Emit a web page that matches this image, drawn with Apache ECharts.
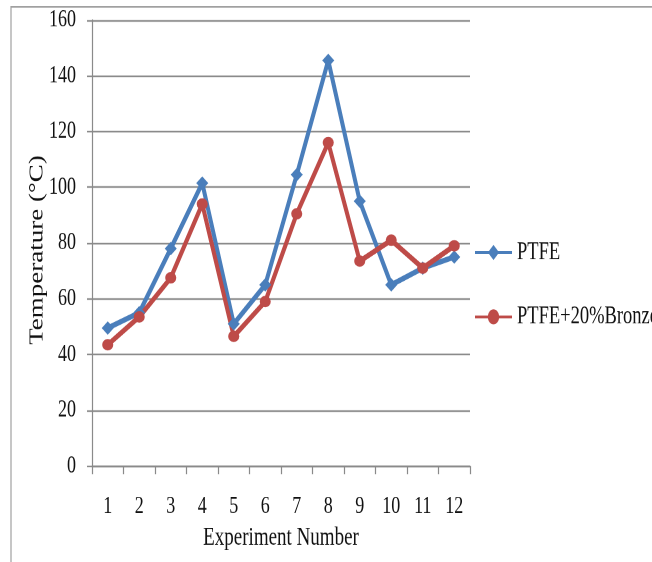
<!DOCTYPE html>
<html>
<head>
<meta charset="utf-8">
<script src="https://cdn.jsdelivr.net/npm/echarts@6/dist/echarts.min.js"></script>
<style>
  html, body { margin: 0; padding: 0; background: #fff; overflow: hidden; }
  #wrap { width: 652px; height: 562px; overflow: hidden; position: relative; }
  #chart { width: 652px; transform-origin: 0 0; position: absolute; left: 0; top: 0; }
</style>
</head>
<body>
<div id="wrap"><div id="chart"></div></div>
<script>
// ---- data ----
var categories = ['1', '2', '3', '4', '5', '6', '7', '8', '9', '10', '11', '12'];
var ptfe   = [49.5, 55, 78, 101.5, 51, 65, 104.5, 145.5, 95, 65, 71, 75];
var bronze = [43.5, 53.5, 67.5, 94, 46.5, 59, 90.5, 116, 73.5, 81, 71, 79];
var seriesNames = ['PTFE', 'PTFE+20%Bronze'];
var yTicks = { min: 0, max: 160, interval: 20 };
var xTitle = 'Experiment Number';
var yTitle = 'Temperature (°C)';

// ---- layout (reference text is vertically stretched) ----
var S = 1.35;
var W = 652, H = 562 / S;
var el = document.getElementById('chart');
el.style.height = H + 'px';
el.style.transform = 'scaleY(' + S + ')';

var chart = echarts.init(el, null, { width: W, height: H, devicePixelRatio: 2 });
var font = '"Liberation Serif", "Times New Roman", serif';
var grey = '#8a8a8a';

chart.setOption({
  animation: false,
  backgroundColor: '#fff',
  textStyle: { fontFamily: font, color: '#111' },
  graphic: [{
    type: 'rect', left: 8.5, top: 3.5 / S, silent: true,
    shape: { width: 800, height: 800 },
    style: { fill: 'none', stroke: '#a0a0a0', lineWidth: 1.2 }
  }, {
    type: 'text', x: 37, y: 250 / S, rotation: Math.PI / 2, silent: true,
    style: {
      text: yTitle, fontFamily: font, fontSize: 20, fill: '#111',
      align: 'center', verticalAlign: 'middle'
    }
  }],
  grid: {
    left: 92, right: W - 470, top: 20 / S, bottom: (562 - 466) / S,
    containLabel: false, outerBoundsMode: 'none'
  },
  legend: {
    orient: 'vertical', left: 474, top: 177.5, itemGap: 28.7, padding: 0,
    itemWidth: 37, itemHeight: 14,
    textStyle: { fontFamily: font, fontSize: 18.5, color: '#111' },
    data: seriesNames
  },
  xAxis: {
    type: 'category', data: categories, boundaryGap: true,
    name: xTitle, nameLocation: 'middle', nameGap: 43,
    nameTextStyle: { fontFamily: font, fontSize: 19, color: '#111' },
    axisLine: { lineStyle: { color: grey, width: 1.2 } },
    axisTick: { show: true, length: 6, alignWithLabel: false, lineStyle: { color: grey, width: 1.2 } },
    axisLabel: { fontFamily: font, fontSize: 18, color: '#111', margin: 21, interval: 0 },
    splitLine: { show: false }
  },
  yAxis: {
    type: 'value', min: yTicks.min, max: yTicks.max, interval: yTicks.interval,
    axisLine: { show: true, lineStyle: { color: grey, width: 1.2 } },
    axisTick: { show: true, length: 5, lineStyle: { color: grey, width: 1.2 } },
    axisLabel: { fontFamily: font, fontSize: 18, color: '#111', margin: 16 },
    splitLine: { show: true, lineStyle: { color: grey, width: 1.3 } }
  },
  series: [
    {
      name: seriesNames[0], type: 'line', data: ptfe,
      symbol: 'diamond', symbolSize: [12, 10], showSymbol: true,
      lineStyle: { color: '#4A7EBB', width: 4 },
      itemStyle: { color: '#4A7EBB' }
    },
    {
      name: seriesNames[1], type: 'line', data: bronze,
      symbol: 'circle', symbolSize: [11, 8.5], showSymbol: true,
      lineStyle: { color: '#BE4B48', width: 4 },
      itemStyle: { color: '#BE4B48' }
    }
  ]
});
</script>
</body>
</html>
